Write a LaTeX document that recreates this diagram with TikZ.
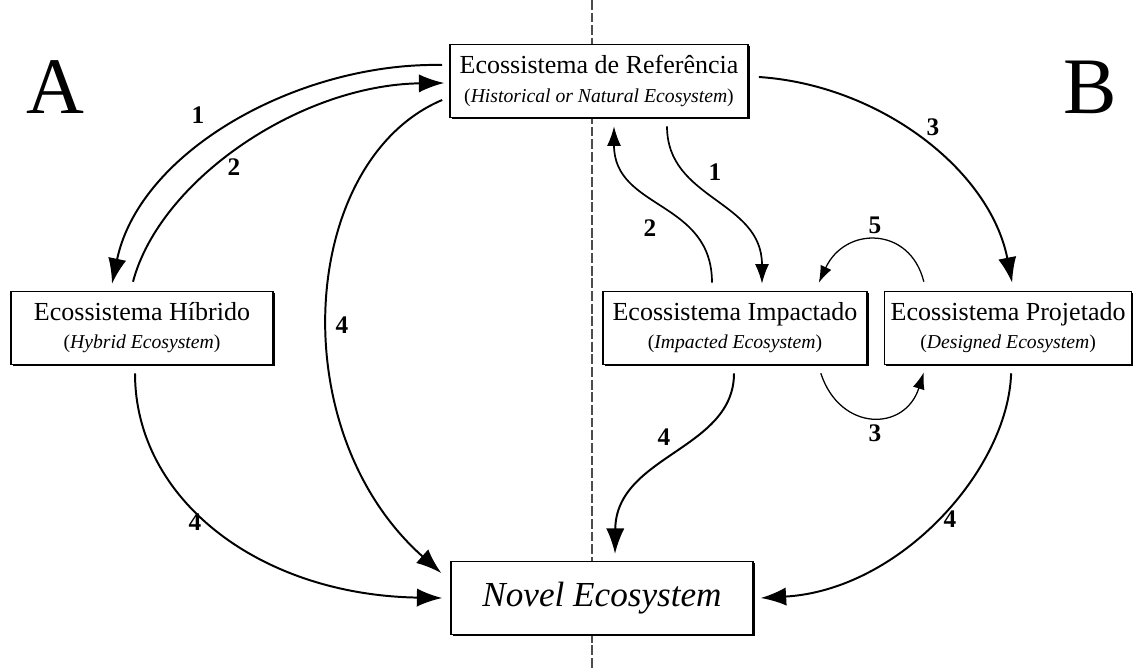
\documentclass[tikz,border=0pt]{standalone}
\usepackage{fontspec}
\setmainfont{Liberation Serif}
\usetikzlibrary{arrows.meta, positioning, calc, shadows}

\newcommand{\subtxt}[1]{{\fontsize{14}{16}\selectfont(\textit{#1})}}

\begin{document}
\begin{tikzpicture}[x=0.025cm, y=-0.025cm,
    eco/.style={draw, rectangle, line width=1.1pt, fill=white, align=center,
      font=\fontsize{18.5}{20}\selectfont, inner sep=2pt, minimum height=1.825cm,
      drop shadow={shadow xshift=1.3pt, shadow yshift=-1.3pt, fill=black, opacity=1}},
    big/.style={line width=1.4pt, -{Latex[length=18pt, width=13pt]}},
    mid/.style={line width=1.2pt, -{Latex[length=14pt, width=10pt]}},
    small/.style={line width=0.9pt, -{Latex[length=12pt, width=8.5pt]}},
    num/.style={font=\fontsize{18}{18}\selectfont\bfseries}]
    \useasboundingbox (0,0) rectangle (1141,668);

    % Divider
    \draw[black!70, line width=0.9pt, dash pattern=on 7pt off 2pt] (592,0) -- (592,668);

    % Ecosystems
    \node[eco, minimum width=7.45cm] (ref) at (599,81) {Ecossistema de Referência\\\subtxt{Historical or Natural Ecosystem}};
    \node[eco, minimum width=6.55cm] (hybrid) at (142,328) {Ecossistema Híbrido\\\subtxt{Hybrid Ecosystem}};
    \node[eco, minimum width=6.6cm] (impacted) at (735,328) {Ecossistema Impactado\\\subtxt{Impacted Ecosystem}};
    \node[eco, minimum width=6.175cm, right=0.4cm of impacted] (designed) {Ecossistema Projetado\\\subtxt{Designed Ecosystem}};
    \node[eco, minimum width=7.55cm, font=\fontsize{25}{28}\selectfont\itshape] (novel) at (602,598) {Novel Ecosystem};

    % Panels
    \node[font=\fontsize{57}{57}\selectfont] (panelA) at (55,87) {A};
    \node[font=\fontsize{57}{57}\selectfont] (panelB) at (1090,87) {B};

    % Transitions A
    \draw[big] ($(ref.west)+(-7,-16)$) .. controls (300,62) and (140,150) .. ($(hybrid.north)+(-30,-7)$);
    \draw[big] ($(hybrid.north)+(-9,-9)$) .. controls (160,180) and (300,85) .. ($(ref.west)+(-5,2)$);
    \draw[big] ($(ref.west)+(-7,19)$) .. controls (300,160) and (280,430) .. ($(novel.west)+(-9,-25)$);
    \draw[big] ($(hybrid.south)+(-7,8)$) .. controls (135,500) and (260,595) .. ($(novel.west)+(-8,0)$);

    % Transitions B
    \draw[big] ($(ref.east)+(10,-4)$) .. controls (880,85) and (990,170) .. ($(designed.north)+(4,-8)$);
    \draw[mid] ($(ref.south)+(68,8)$) .. controls (667,200) and (762,200) .. ($(impacted.north)+(27,-7)$);
    \draw[mid] ($(impacted.north)+(-23,-8)$) .. controls (712,200) and (614,210) .. ($(ref.south)+(15,8)$);
    \draw[small] ($(designed.north west)+(40,-9)$) .. controls (910,226) and (845,226) .. ($(impacted.north east)+(-49,-8)$);
    \draw[small] ($(impacted.south east)+(-47,8)$) .. controls (840,432) and (905,432) .. ($(designed.south west)+(40,7)$);
    \draw[big] ($(impacted.south)+(-1,8)$) .. controls (734,450) and (616,455) .. ($(novel.north)+(13,-7)$);
    \draw[big] ($(designed.south)+(3,8)$) .. controls (1008,470) and (900,590) .. ($(novel.east)+(7,0)$);

    % Labels
    \node[num] (la1) at (198,115) {1};
    \node[num] (la2) at (234,167) {2};
    \node[num] (la4) at (342,325) {4};
    \node[num] (la4h) at (195,522) {4};
    \node[num] (lb3) at (933,127) {3};
    \node[num] (lb1) at (715,172) {1};
    \node[num] (lb2) at (650,228) {2};
    \node[num] (lb5) at (875,225) {5};
    \node[num] (lb3d) at (875,433) {3};
    \node[num] (lb4i) at (664,437) {4};
    \node[num] (lb4d) at (950,519) {4};
\end{tikzpicture}
\end{document}
